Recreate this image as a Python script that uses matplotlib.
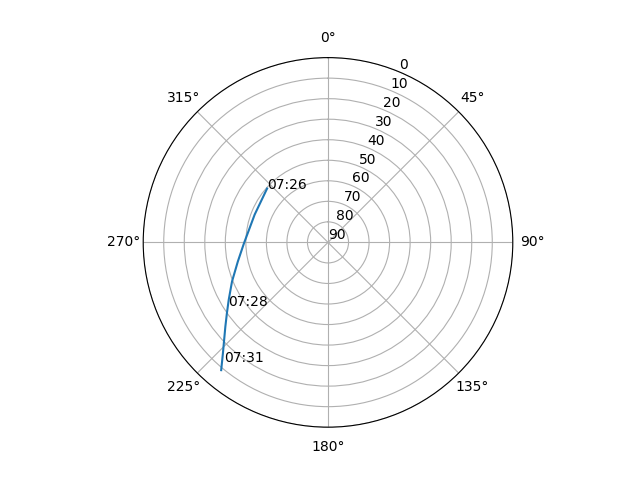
import matplotlib
matplotlib.use("Agg")
import matplotlib.pyplot as plt
import numpy as np

# pass track (azimuth / elevation in degrees)
azimuth = [311.5, 290.8, 269.5, 258.0, 247.8, 239.9, 234.9, 230.6, 223.4, 219.9]
elevation = [50.4, 51.8, 49.1, 45.1, 39.5, 34.1, 29.8, 25.3, 15.5, 8.9]

# time marks along the track
label_times = ["07:26", "07:28", "07:31"]
label_az = [311.5, 237.5, 221.1]
label_el = [50.4, 32.6, 12.8]

fig = plt.figure(figsize=(6.4, 4.8), dpi=100)
ax = fig.add_subplot(111, projection="polar")
ax.set_theta_zero_location("N")
ax.set_theta_direction(-1)

ax.plot(np.radians(azimuth), elevation)
for t, a, e in zip(label_times, label_az, label_el):
    ax.text(np.radians(a), e, t)

ax.set_rticks(range(0, 91, 10))
ax.set_rlim(90, 0)

fig.savefig("out.png")
